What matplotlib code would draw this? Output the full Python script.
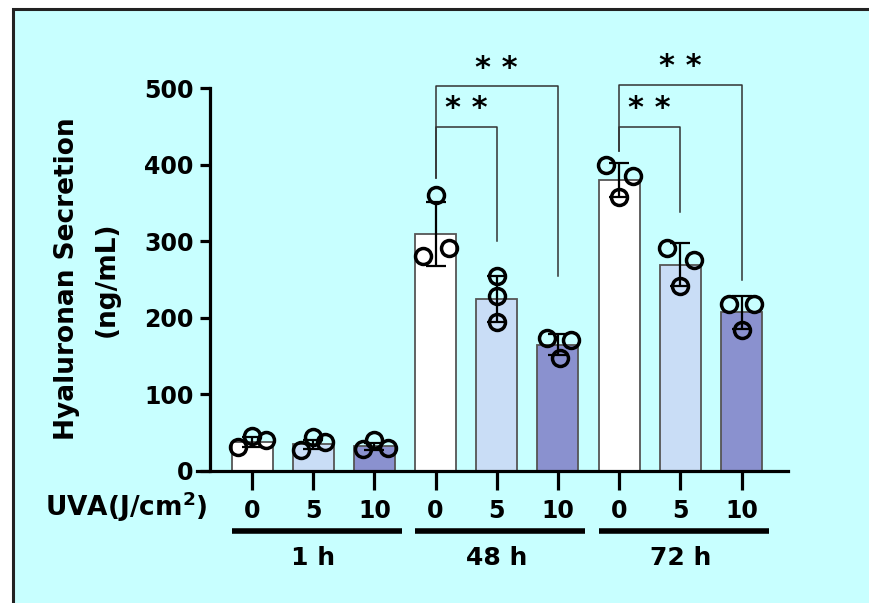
import numpy as np
import matplotlib
matplotlib.use("Agg")
import matplotlib.pyplot as plt
from matplotlib.patches import Rectangle
import matplotlib.transforms as mtransforms

# data
groups = ["1 h", "48 h", "72 h"]
doses = ["0", "5", "10"]
means = [38, 35, 32, 309, 225, 165, 380, 269, 207]
sds = [7, 6, 5, 42, 30, 14, 22, 28, 21]
points = [
    [31, 46, 41], [28, 44, 38], [29, 40, 30],
    [360, 281, 291], [255, 228, 194], [174, 171, 148],
    [399, 385, 358], [291, 276, 241], [218, 218, 184],
]
jitter = [
    [-0.23, 0.0, 0.23], [-0.2, 0.0, 0.2], [-0.19, 0.0, 0.22],
    [0.0, -0.21, 0.22], [0.0, 0.0, 0.0], [-0.18, 0.22, 0.03],
    [-0.21, 0.22, 0.0], [-0.21, 0.22, 0.0], [-0.2, 0.21, 0.0],
]
bar_colors = ["#ffffff", "#c9ddf6", "#8a91cf"]
# significance brackets: (left bar, right bar, height, left leg end, right leg end, label)
brackets = [
    (3, 4, 449, 382, 300, "* *"),
    (3, 5, 502, 382, 255, "* *"),
    (6, 7, 449, 418, 338, "* *"),
    (6, 8, 504, 418, 250, "* *"),
]

W, H = 869, 603
plt.rcParams["font.family"] = ["DejaVu Sans"]
plt.rcParams["font.weight"] = "bold"
plt.rcParams["mathtext.default"] = "bf"

fig = plt.figure(figsize=(W / 100, H / 100), dpi=100)
fig.patch.set_facecolor("white")
fig.patches.append(Rectangle((13 / W, -0.1), 1.2, 1 - 9 / H + 0.1, transform=fig.transFigure,
                             facecolor="#c8ffff", edgecolor="#222222", linewidth=2.2, zorder=-10))


def px(x, y):
    return x / W, 1 - y / H


ax_l, ax_r, ax_b, ax_t = 197, 788, 471, 88
ax = fig.add_axes([ax_l / W, 1 - ax_b / H, (ax_r - ax_l) / W, (ax_b - ax_t) / H])
ax.set_facecolor("none")

xs = np.arange(9)
ax.set_xlim(-0.9, 8.76)
ax.set_ylim(0, 500)

ax.bar(xs, means, width=0.67, color=[bar_colors[i % 3] for i in xs],
       edgecolor="#555555", linewidth=1.3, zorder=2)
ax.errorbar(xs, means, yerr=sds, fmt="none", ecolor="black", elinewidth=1.6,
            capsize=7, capthick=1.6, zorder=3)
for i in xs:
    ax.plot(i + np.array(jitter[i]), points[i], "o", markersize=11.5, markerfacecolor="none",
            markeredgecolor="black", markeredgewidth=2.5, zorder=4, clip_on=False)

for a, b, h, la, lb, lab in brackets:
    ax.plot([a, a, b, b], [la, h, h, lb], color="#333333", linewidth=1.1, clip_on=False, zorder=1)
    ax.text((a + b) / 2, h + 24, lab, ha="center", va="center", fontsize=22,
            fontweight="bold", clip_on=False)

for s in ["top", "right"]:
    ax.spines[s].set_visible(False)
ax.spines["left"].set_position(("data", -0.686))
ax.spines["left"].set_linewidth(2.3)
ax.spines["bottom"].set_linewidth(2.3)
ax.spines["left"].set_bounds(0, 500)

ax.set_yticks([0, 100, 200, 300, 400, 500])
ax.tick_params(axis="y", length=7, width=2.3, labelsize=17, pad=5)
ax.set_xticks(xs, [doses[i % 3] for i in xs])
ax.tick_params(axis="x", length=14, width=2.3, labelsize=17, pad=6)
for t in ax.get_xticklabels() + ax.get_yticklabels():
    t.set_fontweight("bold")

# group lines and labels under the dose labels
trans = mtransforms.blended_transform_factory(ax.transData, fig.transFigure)
for g in range(3):
    ax.plot([3 * g - 0.33, 3 * g + 2.45], [1 - 531 / H] * 2, color="black", linewidth=4,
            transform=trans, clip_on=False, solid_capstyle="butt")
    ax.text(3 * g + 1, 1 - 558 / H, groups[g], transform=trans, ha="center", va="center",
            fontsize=18, fontweight="bold")

fig.text(*px(126, 507), "UVA(J/cm$^{2}$)", ha="center", va="center", fontsize=19,
         fontweight="bold")
fig.text(*px(67, 279), "Hyaluronan Secretion", ha="center", va="center",
         rotation=90, fontsize=19, fontweight="bold")
fig.text(*px(107, 279), "(ng/mL)", ha="center", va="center",
         rotation=90, fontsize=19, fontweight="bold")

fig.savefig("out.png", dpi=100)
